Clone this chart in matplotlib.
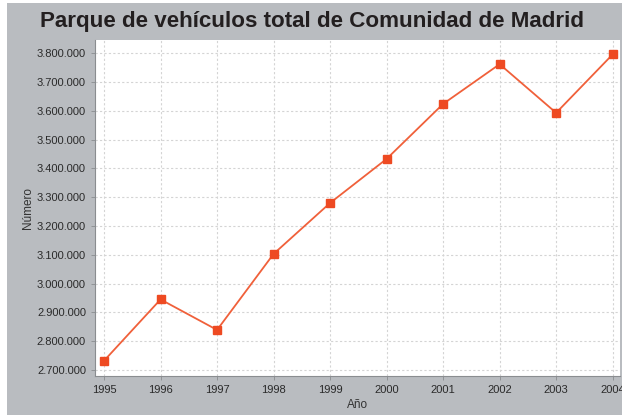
import matplotlib
matplotlib.use("Agg")
import matplotlib.pyplot as plt
from matplotlib.patches import Rectangle
from matplotlib.ticker import FuncFormatter

years = [1995, 1996, 1997, 1998, 1999, 2000, 2001, 2002, 2003, 2004]
vehicles = [2732000, 2945000, 2839000, 3103000, 3280000, 3433000, 3624000, 3762000, 3593000, 3796000]
yticks = [2700000, 2800000, 2900000, 3000000, 3100000, 3200000, 3300000,
          3400000, 3500000, 3600000, 3700000, 3800000]

plt.rcParams["font.family"] = ["Liberation Sans", "DejaVu Sans"]

W, H = 622, 415
fig = plt.figure(figsize=(W / 100, H / 100), dpi=100)
bg = "#b9bcc0"
fig.patch.set_facecolor(bg)
# white margin strips at left and top
fig.patches.append(Rectangle((0, 0), 7 / W, 1, transform=fig.transFigure,
                             facecolor="white", edgecolor="none", zorder=-5))
fig.patches.append(Rectangle((0, 1 - 3 / H), 1, 3 / H, transform=fig.transFigure,
                             facecolor="white", edgecolor="none", zorder=-5))

ax = fig.add_axes([95 / W, 1 - 376 / H, (620 - 95) / W, (376 - 40) / H])
ax.set_facecolor("white")
ax.plot(years, vehicles, color="#f0603a", lw=1.3, marker="s", ms=5.5,
        markerfacecolor="#ee4a22", markeredgecolor="#ee4a22", zorder=3)
ax.set_xlim(1994.84, 2004.13)
ax.set_ylim(2679000, 3846000)
ax.set_xticks(years)
ax.set_xticklabels([str(y) for y in years])
ax.set_yticks(yticks)
ax.yaxis.set_major_formatter(FuncFormatter(lambda v, p: f"{int(v):,}".replace(",", ".")))
ax.grid(True, color="#d4d4d4", linestyle=(0, (2, 2)), lw=0.8)
ax.set_axisbelow(True)
for s in ["top", "right"]:
    ax.spines[s].set_visible(False)
for s in ["left", "bottom"]:
    ax.spines[s].set_color("#8a8d90")
ax.tick_params(axis="both", labelsize=8, length=3, width=0.6,
               labelcolor="#2a2a2a", color="#8a8d90")
ax.set_xlabel("Año", fontsize=8.5, color="#333333", labelpad=3)
ax.set_ylabel("Número", fontsize=8.5, color="#333333", labelpad=2)

fig.text(0.502, 1 - 21 / H, "Parque de vehículos total de Comunidad de Madrid",
         ha="center", va="center", fontsize=16.1, fontweight="bold",
         color="#231f20")

fig.savefig("out.png", dpi=100, facecolor=fig.get_facecolor())
